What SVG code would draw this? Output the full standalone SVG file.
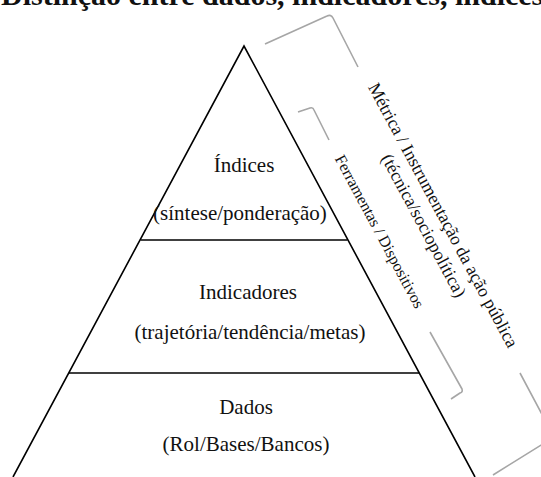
<svg xmlns="http://www.w3.org/2000/svg" width="541" height="477" viewBox="0 0 541 477">
<style>
.t{font-family:"Liberation Serif","Times New Roman",serif;fill:#111;}
.main{font-size:21px;text-anchor:middle;}
.side{text-anchor:middle;}
.br{fill:none;stroke:#a6a6a6;stroke-width:1.6;stroke-linejoin:round;}
.py{fill:none;stroke:#000;stroke-width:1.6;}
</style>
<rect width="541" height="477" fill="#fff"/>
<g id="title"><text class="t" x="1" y="5" font-size="30" font-weight="bold">Distinção entre dados, indicadores, índices</text></g>
<g id="pyramid">
<path class="py" d="M13,477 L244,46 L475,477"/>
<line class="py" x1="140.5" y1="240" x2="347.5" y2="240"/>
<line class="py" x1="69" y1="373" x2="419" y2="373"/>
</g>
<g id="indices"><text class="t main" x="244" y="172">Índices</text><text class="t main" x="240" y="220">(síntese/ponderação)</text></g>
<g id="indicadores"><text class="t main" x="248" y="299">Indicadores</text><text class="t main" x="250" y="339">(trajetória/tendência/metas)</text></g>
<g id="dados"><text class="t main" x="246" y="414">Dados</text><text class="t main" x="246" y="451">(Rol/Bases/Bancos)</text></g>
<g id="connectors">
<path class="br" d="M265,44 L327,16 Q331,14 333,18 L358,67"/>
<path class="br" d="M520,373 L554,437 L493,475"/>
<path class="br" d="M298,112 L310,108 Q313,107 314,110 L329,140"/>
<path class="br" d="M430,332 L462,389 Q463,392 460,393 L451,399"/>
</g>
<g id="metrica" transform="translate(438,218) rotate(61.8)"><text class="t side" font-size="18" x="0" y="0">Métrica / Instrumentação da ação pública<tspan x="0" dy="22">(técnica/sociopolítica)</tspan></text></g>
<g id="ferramentas" transform="translate(375,234) rotate(61.8)"><text class="t side" font-size="16" x="0" y="0">Ferramentas / Dispositivos</text></g>
</svg>
